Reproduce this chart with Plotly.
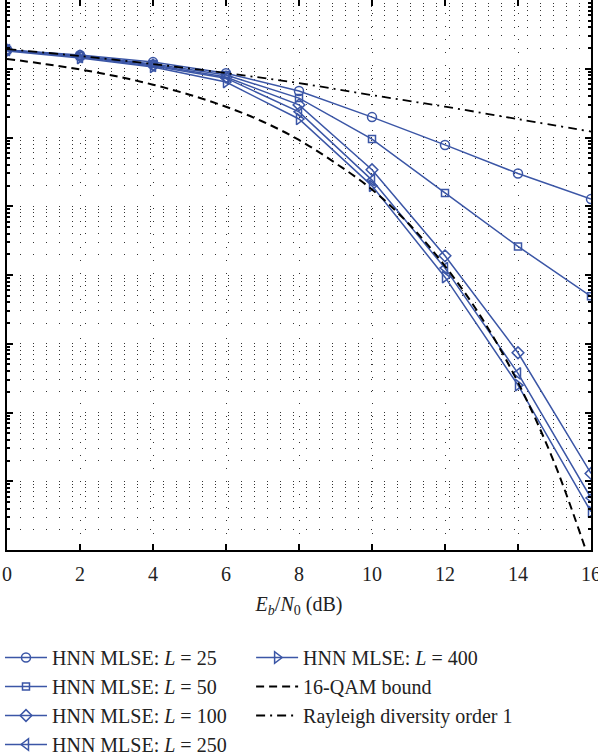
import plotly.graph_objects as go

# Eb/N0 (dB)
snr = [0, 2, 4, 6, 8, 10, 12, 14, 16]
snr_fine = [0, 1, 2, 3, 4, 5, 6, 7, 8, 9, 10, 11, 12, 13, 14, 15, 16]

# BER values
ber_L25 = [0.187, 0.158, 0.125, 0.0862, 0.0475, 0.0198, 7.8e-3, 3.0e-3, 1.27e-3]
ber_L50 = [0.187, 0.153, 0.117, 0.0813, 0.0374, 9.5e-3, 1.56e-3, 2.6e-4, 4.9e-5]
ber_L100 = [0.187, 0.153, 0.113, 0.0757, 0.0298, 3.4e-3, 1.9e-4, 7.4e-6, 1.3e-7]
ber_L250 = [0.187, 0.148, 0.110, 0.0730, 0.0236, 2.4e-3, 1.26e-4, 3.7e-6, 5.7e-8]
ber_L400 = [0.181, 0.143, 0.106, 0.0640, 0.0186, 1.98e-3, 9.3e-5, 2.5e-6, 3.6e-8]
ber_bound = [0.139, 0.118, 0.0977, 0.0777, 0.0587, 0.0419, 0.0280, 0.0171, 9.2e-3,
             4.24e-3, 1.75e-3, 5.6e-4, 1.35e-4, 2.4e-5, 2.74e-6, 1.83e-7, 6e-9]
ber_rayleigh = [0.193, 0.153, 0.117, 0.0866, 0.0618, 0.0413, 0.0281, 0.0185, 0.0122]

x_ticks = [0, 2, 4, 6, 8, 10, 12, 14, 16]

BLUE = "#3b56a6"
FONT = "Liberation Serif"

fig = go.Figure()

series = [
    ("HNN MLSE: <i>L</i> = 25", ber_L25, "circle-open", 9),
    ("HNN MLSE: <i>L</i> = 50", ber_L50, "square-open", 7),
    ("HNN MLSE: <i>L</i> = 100", ber_L100, "diamond-open", 9),
    ("HNN MLSE: <i>L</i> = 250", ber_L250, "triangle-left-open", 10),
]
for name, vals, sym, sz in series:
    fig.add_trace(go.Scatter(
        x=snr, y=vals, name=name, mode="lines+markers",
        line=dict(color=BLUE, width=1.5),
        marker=dict(symbol=sym, size=sz, color=BLUE, line=dict(width=1.5, color=BLUE)),
        legend="legend",
    ))

fig.add_trace(go.Scatter(
    x=snr, y=ber_L400, name="HNN MLSE: <i>L</i> = 400", mode="lines+markers",
    line=dict(color=BLUE, width=1.5),
    marker=dict(symbol="triangle-right-open", size=10, color=BLUE, line=dict(width=1.5, color=BLUE)),
    legend="legend2",
))
fig.add_trace(go.Scatter(
    x=snr_fine, y=ber_bound, name="16-QAM bound", mode="lines",
    line=dict(color="black", width=2, dash="8px,5px", shape="spline"),
    legend="legend2",
))
fig.add_trace(go.Scatter(
    x=snr, y=ber_rayleigh, name="Rayleigh diversity order 1", mode="lines",
    line=dict(color="black", width=1.8, dash="9px,5px,2px,5px", shape="spline"),
    legend="legend2",
))

grid_dash = "1px,12px"
grid_col = "#333333"

fig.update_xaxes(
    range=[0, 16], tickvals=x_ticks, ticktext=[str(v) for v in x_ticks],
    automargin=False, ticklabeloverflow="allow",
    showline=True, linecolor="black", linewidth=2, mirror="ticks",
    ticks="inside", ticklen=6, tickwidth=1.5, tickcolor="black",
    showgrid=True, gridcolor=grid_col, griddash=grid_dash, gridwidth=1,
    zeroline=False,
    tickfont=dict(family=FONT, size=20, color="#222"),
    ticklabelstandoff=5,
    title=dict(text="<i>E</i><sub><i>b</i></sub>/<i>N</i><sub>0</sub> (dB)",
               font=dict(family=FONT, size=20, color="#222"), standoff=13),
)
fig.update_yaxes(
    type="log", range=[-8, 0], dtick=1,
    automargin=False,
    showline=True, linecolor="black", linewidth=2, mirror="ticks",
    ticks="inside", ticklen=6, tickwidth=1.5, tickcolor="black",
    showticklabels=False,
    showgrid=True, gridcolor=grid_col, griddash=grid_dash, gridwidth=1,
    zeroline=False,
    minor=dict(dtick="D1", ticks="inside", ticklen=3, tickcolor="black",
               showgrid=True, gridcolor=grid_col, griddash=grid_dash, gridwidth=1),
)

legend_common = dict(
    font=dict(family=FONT, size=20, color="#222"),
    bgcolor="rgba(0,0,0,0)", borderwidth=0,
    xanchor="left", yanchor="top", orientation="v",
    tracegroupgap=0, itemwidth=42,
)
fig.update_layout(
    width=598, height=755,
    margin=dict(l=7, r=7, t=0, b=205, autoexpand=False),
    paper_bgcolor="white", plot_bgcolor="white",
    showlegend=True,
    legend=dict(x=-0.012, y=-0.16, **legend_common),
    legend2=dict(x=0.418, y=-0.16, **legend_common),
)

fig.write_html(
    "out.html",
    config={"displayModeBar": False},
    post_script="document.body.style.margin='0';document.body.style.padding='0';",
)
